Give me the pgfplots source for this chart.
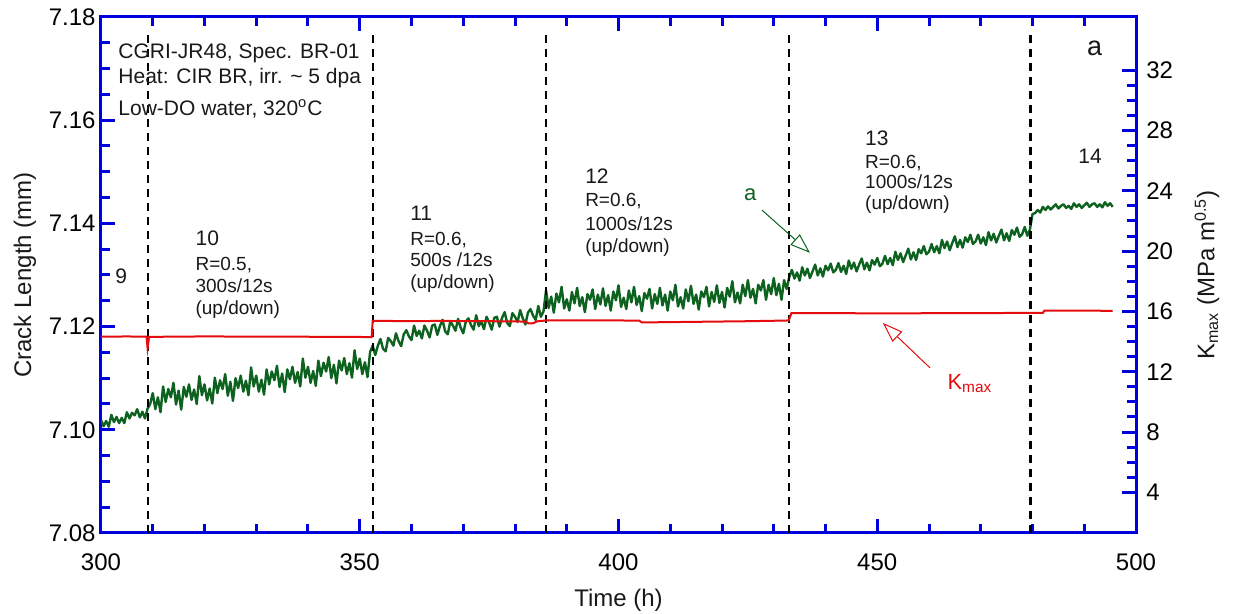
\documentclass[border=0pt]{standalone}
\usepackage{pgfplots}
\pgfplotsset{compat=1.18}
\usepackage{pgfplotstable}
\usepackage{fontspec}
\setmainfont{Liberation Sans}
\usetikzlibrary{arrows.meta}
\definecolor{axblue}{RGB}{0,0,220}
\definecolor{dgreen}{RGB}{12,98,30}
\definecolor{kred}{RGB}{228,12,12}
\definecolor{txt}{RGB}{25,25,25}

\pgfplotstableread{
t a
300.0 7.1019
300.5 7.1007
301.0 7.1017
301.5 7.1006
302.0 7.1029
302.5 7.1015
303.0 7.1025
303.5 7.1013
304.0 7.1023
304.5 7.1013
305.0 7.1034
305.5 7.1022
306.0 7.1033
306.5 7.1028
307.0 7.1040
307.5 7.1024
308.0 7.1035
308.5 7.1022
309.0 7.1041
309.5 7.1050
310.0 7.1071
310.5 7.1040
311.0 7.1063
311.5 7.1034
312.0 7.1084
312.5 7.1054
313.0 7.1079
313.5 7.1063
314.0 7.1091
314.5 7.1049
315.0 7.1076
315.5 7.1039
316.0 7.1083
316.5 7.1064
317.0 7.1088
317.5 7.1058
318.0 7.1078
318.5 7.1050
319.0 7.1104
319.5 7.1067
320.0 7.1088
320.5 7.1057
321.0 7.1080
321.5 7.1051
322.0 7.1101
322.5 7.1071
323.0 7.1096
323.5 7.1079
324.0 7.1108
324.5 7.1066
325.0 7.1093
325.5 7.1056
326.0 7.1100
326.5 7.1081
327.0 7.1105
327.5 7.1074
328.0 7.1095
328.5 7.1067
329.0 7.1121
329.5 7.1084
330.0 7.1105
330.5 7.1074
331.0 7.1097
331.5 7.1068
332.0 7.1117
332.5 7.1088
333.0 7.1113
333.5 7.1096
334.0 7.1124
334.5 7.1083
335.0 7.1109
335.5 7.1073
336.0 7.1117
336.5 7.1098
337.0 7.1122
337.5 7.1091
338.0 7.1112
338.5 7.1084
339.0 7.1138
339.5 7.1101
340.0 7.1122
340.5 7.1091
341.0 7.1114
341.5 7.1085
342.0 7.1134
342.5 7.1104
343.0 7.1130
343.5 7.1113
344.0 7.1141
344.5 7.1100
345.0 7.1126
345.5 7.1090
346.0 7.1134
346.5 7.1115
347.0 7.1139
347.5 7.1108
348.0 7.1129
348.5 7.1101
349.0 7.1154
349.5 7.1118
350.0 7.1138
350.5 7.1108
351.0 7.1131
351.5 7.1102
352.0 7.1151
352.5 7.1163
353.0 7.1145
353.5 7.1163
354.0 7.1176
354.5 7.1157
355.0 7.1152
355.5 7.1178
356.0 7.1172
356.5 7.1163
357.0 7.1187
357.5 7.1172
358.0 7.1162
358.5 7.1185
359.0 7.1193
359.5 7.1181
360.0 7.1174
360.5 7.1202
361.0 7.1182
361.5 7.1192
362.0 7.1177
362.5 7.1202
363.0 7.1192
363.5 7.1179
364.0 7.1202
364.5 7.1204
365.0 7.1184
365.5 7.1201
366.0 7.1213
366.5 7.1191
367.0 7.1185
367.5 7.1210
368.0 7.1202
368.5 7.1192
369.0 7.1215
369.5 7.1198
370.0 7.1187
370.5 7.1210
371.0 7.1216
371.5 7.1203
372.0 7.1194
372.5 7.1222
373.0 7.1201
373.5 7.1210
374.0 7.1195
374.5 7.1219
375.0 7.1208
375.5 7.1194
376.0 7.1217
376.5 7.1219
377.0 7.1200
377.5 7.1217
378.0 7.1228
378.5 7.1207
379.0 7.1201
379.5 7.1226
380.0 7.1219
380.5 7.1209
381.0 7.1232
381.5 7.1216
382.0 7.1204
382.5 7.1227
383.0 7.1234
383.5 7.1221
384.0 7.1213
384.5 7.1240
385.0 7.1219
385.5 7.1229
386.0 7.1270
386.5 7.1236
387.0 7.1258
387.5 7.1227
388.0 7.1264
388.5 7.1247
389.0 7.1277
389.5 7.1235
390.0 7.1253
390.5 7.1231
391.0 7.1267
391.5 7.1245
392.0 7.1275
392.5 7.1240
393.0 7.1257
393.5 7.1228
394.0 7.1263
394.5 7.1252
395.0 7.1272
395.5 7.1234
396.0 7.1262
396.5 7.1243
397.0 7.1274
397.5 7.1240
398.0 7.1261
398.5 7.1231
399.0 7.1268
399.5 7.1251
400.0 7.1280
400.5 7.1238
401.0 7.1256
401.5 7.1234
402.0 7.1270
402.5 7.1247
403.0 7.1277
403.5 7.1242
404.0 7.1259
404.5 7.1230
405.0 7.1265
405.5 7.1254
406.0 7.1273
406.5 7.1235
407.0 7.1263
407.5 7.1244
408.0 7.1275
408.5 7.1241
409.0 7.1262
409.5 7.1231
410.0 7.1268
410.5 7.1251
411.0 7.1281
411.5 7.1239
412.0 7.1257
412.5 7.1235
413.0 7.1272
413.5 7.1249
414.0 7.1279
414.5 7.1244
415.0 7.1262
415.5 7.1233
416.0 7.1268
416.5 7.1257
417.0 7.1277
417.5 7.1239
418.0 7.1267
418.5 7.1248
419.0 7.1280
419.5 7.1246
420.0 7.1267
420.5 7.1237
421.0 7.1275
421.5 7.1258
422.0 7.1288
422.5 7.1247
423.0 7.1266
423.5 7.1245
424.0 7.1281
424.5 7.1259
425.0 7.1290
425.5 7.1256
426.0 7.1273
426.5 7.1245
427.0 7.1281
427.5 7.1270
428.0 7.1290
428.5 7.1252
429.0 7.1281
429.5 7.1263
430.0 7.1294
430.5 7.1261
431.0 7.1283
431.5 7.1252
432.0 7.1290
432.5 7.1273
433.0 7.1296
433.5 7.1310
434.0 7.1293
434.5 7.1305
435.0 7.1289
435.5 7.1315
436.0 7.1299
436.5 7.1312
437.0 7.1294
437.5 7.1307
438.0 7.1320
438.5 7.1299
439.0 7.1313
439.5 7.1297
440.0 7.1318
440.5 7.1309
441.0 7.1322
441.5 7.1305
442.0 7.1310
442.5 7.1323
443.0 7.1306
443.5 7.1318
444.0 7.1302
444.5 7.1328
445.0 7.1312
445.5 7.1324
446.0 7.1307
446.5 7.1320
447.0 7.1332
447.5 7.1311
448.0 7.1324
448.5 7.1309
449.0 7.1329
449.5 7.1320
450.0 7.1333
450.5 7.1317
451.0 7.1322
451.5 7.1337
452.0 7.1321
452.5 7.1333
453.0 7.1319
453.5 7.1345
454.0 7.1329
454.5 7.1342
455.0 7.1325
455.5 7.1338
456.0 7.1351
456.5 7.1330
457.0 7.1344
457.5 7.1329
458.0 7.1350
458.5 7.1342
459.0 7.1356
459.5 7.1340
460.0 7.1345
460.5 7.1360
461.0 7.1344
461.5 7.1356
462.0 7.1342
462.5 7.1368
463.0 7.1352
463.5 7.1365
464.0 7.1348
464.5 7.1362
465.0 7.1375
465.5 7.1354
466.0 7.1368
466.5 7.1353
467.0 7.1373
467.5 7.1364
468.0 7.1378
468.5 7.1360
469.0 7.1365
469.5 7.1378
470.0 7.1361
470.5 7.1373
471.0 7.1358
471.5 7.1383
472.0 7.1367
472.5 7.1380
473.0 7.1363
473.5 7.1376
474.0 7.1388
474.5 7.1367
475.0 7.1381
475.5 7.1366
476.0 7.1387
476.5 7.1378
477.0 7.1392
477.5 7.1374
478.0 7.1379
478.5 7.1393
479.0 7.1376
479.5 7.1388
480.0 7.1418
480.5 7.1420
481.0 7.1426
481.5 7.1421
482.0 7.1432
482.5 7.1426
483.0 7.1433
483.5 7.1427
484.0 7.1432
484.5 7.1437
485.0 7.1429
485.5 7.1434
486.0 7.1437
486.5 7.1430
487.0 7.1434
487.5 7.1428
488.0 7.1439
488.5 7.1432
489.0 7.1437
489.5 7.1430
490.0 7.1435
490.5 7.1440
491.0 7.1432
491.5 7.1437
492.0 7.1439
492.5 7.1432
493.0 7.1437
493.5 7.1431
494.0 7.1441
494.5 7.1434
495.0 7.1439
495.5 7.1432
}\crackdata

\pgfplotstableread{
t K
300.0 14.32
305.0 14.34
308.8 14.32
309.0 13.56
309.3 14.31
315.0 14.33
320.0 14.34
330.0 14.33
340.0 14.32
352.3 14.30
352.5 15.38
355.0 15.37
360.0 15.35
365.0 15.37
370.0 15.36
375.0 15.35
380.0 15.34
382.2 15.32
382.6 15.20
383.6 15.22
384.2 15.34
386.0 15.40
390.0 15.40
395.0 15.41
400.0 15.40
404.0 15.39
404.5 15.27
410.0 15.29
415.0 15.31
420.0 15.33
425.0 15.35
430.0 15.38
432.9 15.40
433.4 15.88
440.0 15.89
450.0 15.87
460.0 15.88
470.0 15.89
479.0 15.90
482.0 15.90
482.3 16.05
490.0 16.05
495.5 16.04
}\kmaxdata

\begin{document}
\begin{tikzpicture}
\path[use as bounding box] (-50.5pt,-40.5pt) rectangle (566pt,266.5pt);

\begin{axis}[
  at={(0pt,0pt)}, anchor=south west,
  scale only axis, width=517.5pt, height=258pt,
  xmin=300, xmax=500, ymin=7.08, ymax=7.18,
  axis line style={axblue, line width=1.5pt},
  every tick/.style={axblue, line width=1.5pt},
  major tick length=7pt, minor tick length=4.5pt,
  tick align=inside,
  xtick={300,350,400,450,500},
  xticklabels={300,350,400,450,500},
  minor x tick num=4,
  ytick={7.08,7.10,7.12,7.14,7.16,7.18},
  yticklabels={7.08,7.10,7.12,7.14,7.16,7.18},
  minor y tick num=3,
  xtick pos=both, xticklabel pos=lower,
  ytick pos=left,
  tick label style={font=\fontsize{12}{14}\selectfont, text=black},
  yticklabel style={inner xsep=2.5pt},
  xticklabel style={yshift=-7pt},
  xlabel={Time (h)}, ylabel={Crack Length (mm)},
  label style={font=\fontsize{12}{14}\selectfont, text=txt},
  xlabel style={at={(axis description cs:0.5,-0.1298)}, anchor=center},
  ylabel style={at={(axis description cs:-0.0734,0.5)}, anchor=center},
]
\addplot[dgreen, line width=1.2pt, mark=none, line join=round] table[x=t, y=a] {\crackdata};

\addplot[black, line width=1.1pt, dash pattern=on 4pt off 3pt, mark=none] coordinates {(309.1,7.08) (309.1,7.1775)};
\addplot[black, line width=1.1pt, dash pattern=on 4pt off 3pt, mark=none] coordinates {(352.5,7.08) (352.5,7.1775)};
\addplot[black, line width=1.1pt, dash pattern=on 4pt off 3pt, mark=none] coordinates {(386.0,7.08) (386.0,7.1775)};
\addplot[black, line width=1.1pt, dash pattern=on 4pt off 3pt, mark=none] coordinates {(433.0,7.08) (433.0,7.1775)};
\addplot[black, line width=1.1pt, dash pattern=on 4pt off 3pt, mark=none] coordinates {(479.6,7.08) (479.6,7.1775)};

% info box
\node[anchor=base west, inner sep=0pt, text=txt, font=\fontsize{10.5}{12}\selectfont] at (axis cs:303.3,7.1720) {CGRI-JR48, Spec. BR-01};
\node[anchor=base west, inner sep=0pt, text=txt, font=\fontsize{10.5}{12}\selectfont] at (axis cs:303.3,7.1672) {Heat: CIR BR, irr. \textasciitilde{} 5 dpa};
\node[anchor=base west, inner sep=0pt, text=txt, font=\fontsize{10.5}{12}\selectfont] at (axis cs:303.3,7.1610) {Low-DO water, 320\textsuperscript{o}C};

% step labels
\node[anchor=base west, inner sep=0pt, text=txt, font=\fontsize{10.5}{12}\selectfont] at (axis cs:302.7,7.1283) {9};

\node[anchor=base west, inner sep=0pt, text=txt, font=\fontsize{10.5}{12}\selectfont] at (axis cs:318.2,7.1358) {10};
\node[anchor=base west, inner sep=0pt, text=txt, font=\fontsize{9.5}{11}\selectfont] at (axis cs:318.2,7.1309) {R=0.5,};
\node[anchor=base west, inner sep=0pt, text=txt, font=\fontsize{9.5}{11}\selectfont] at (axis cs:318.2,7.1267) {300s/12s};
\node[anchor=base west, inner sep=0pt, text=txt, font=\fontsize{9.5}{11}\selectfont] at (axis cs:318.2,7.1223) {(up/down)};

\node[anchor=base west, inner sep=0pt, text=txt, font=\fontsize{10.5}{12}\selectfont] at (axis cs:359.7,7.1406) {11};
\node[anchor=base west, inner sep=0pt, text=txt, font=\fontsize{9.5}{11}\selectfont] at (axis cs:359.7,7.1358) {R=0.6,};
\node[anchor=base west, inner sep=0pt, text=txt, font=\fontsize{9.5}{11}\selectfont] at (axis cs:359.7,7.1317) {500s /12s};
\node[anchor=base west, inner sep=0pt, text=txt, font=\fontsize{9.5}{11}\selectfont] at (axis cs:359.7,7.1273) {(up/down)};

\node[anchor=base west, inner sep=0pt, text=txt, font=\fontsize{10.5}{12}\selectfont] at (axis cs:393.5,7.1478) {12};
\node[anchor=base west, inner sep=0pt, text=txt, font=\fontsize{9.5}{11}\selectfont] at (axis cs:393.5,7.1432) {R=0.6,};
\node[anchor=base west, inner sep=0pt, text=txt, font=\fontsize{9.5}{11}\selectfont] at (axis cs:393.5,7.1386) {1000s/12s};
\node[anchor=base west, inner sep=0pt, text=txt, font=\fontsize{9.5}{11}\selectfont] at (axis cs:393.5,7.1343) {(up/down)};

\node[anchor=base west, inner sep=0pt, text=txt, font=\fontsize{10.5}{12}\selectfont] at (axis cs:447.6,7.1551) {13};
\node[anchor=base west, inner sep=0pt, text=txt, font=\fontsize{9.5}{11}\selectfont] at (axis cs:447.6,7.1507) {R=0.6,};
\node[anchor=base west, inner sep=0pt, text=txt, font=\fontsize{9.5}{11}\selectfont] at (axis cs:447.6,7.1467) {1000s/12s};
\node[anchor=base west, inner sep=0pt, text=txt, font=\fontsize{9.5}{11}\selectfont] at (axis cs:447.6,7.1426) {(up/down)};

\node[anchor=base west, inner sep=0pt, text=txt, font=\fontsize{10.5}{12}\selectfont] at (axis cs:488.8,7.1516) {14};

\node[anchor=base west, inner sep=0pt, text=txt, font=\fontsize{13.5}{15}\selectfont] at (axis cs:490.5,7.1726) {a};

% curve labels with arrows
\node[anchor=base west, inner sep=0pt, text=dgreen, font=\fontsize{11}{13}\selectfont] at (axis cs:424.2,7.1445) {a};
\draw[dgreen, line width=0.5pt, -{Triangle[open, length=10pt, width=7pt]}] (axis cs:427.7,7.1426) -- (axis cs:437.0,7.1343);

\node[anchor=base west, inner sep=0pt, text=kred, font=\fontsize{11}{13}\selectfont] at (axis cs:463.5,7.1079) {K\textsubscript{max}};
\draw[kred, line width=0.5pt, -{Triangle[open, length=10pt, width=7pt]}] (axis cs:460.2,7.1120) -- (axis cs:451.1,7.1207);
\end{axis}

\begin{axis}[
  at={(0pt,0pt)}, anchor=south west,
  scale only axis, width=517.5pt, height=258pt,
  xmin=300, xmax=500, ymin=1.303, ymax=35.53,
  axis x line=none, axis y line*=right,
  axis line style={axblue, line width=1.5pt},
  every tick/.style={axblue, line width=1.5pt},
  major tick length=7pt, minor tick length=4.5pt,
  tick align=inside,
  ytick={4,8,12,16,20,24,28,32},
  yticklabels={4,8,12,16,20,24,28,32},
  minor y tick num=3,
  tick label style={font=\fontsize{12}{14}\selectfont, text=black},
  yticklabel style={inner xsep=5pt},
  ylabel={K\textsubscript{max} (MPa m\textsuperscript{0.5})},
  label style={font=\fontsize{12}{14}\selectfont, text=txt},
  ylabel style={at={(axis description cs:1.0686,0.5)}, anchor=center, rotate=0},
]
\addplot[kred, line width=1pt, mark=none] table[x=t, y=K] {\kmaxdata};
\end{axis}
\end{tikzpicture}
\end{document}
